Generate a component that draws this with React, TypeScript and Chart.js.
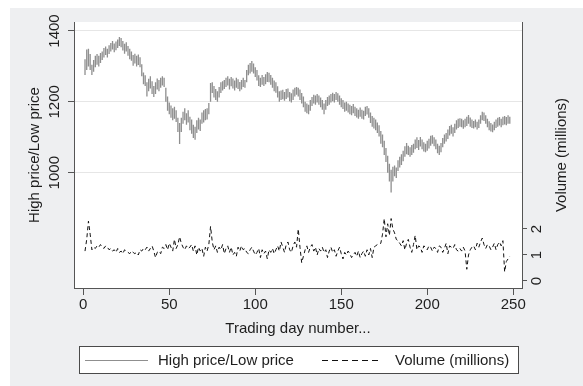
import React, { useEffect, useRef } from "react";
import { Chart, registerables } from "chart.js";

Chart.register(...registerables);

const highPrice = [
  1320, 1348, 1350, 1335, 1305, 1318, 1330, 1335, 1330, 1338,
  1342, 1352, 1356, 1350, 1360, 1366, 1372, 1365, 1370, 1376,
  1383, 1380, 1372, 1364, 1368, 1358, 1350, 1342, 1332, 1336,
  1330, 1334, 1326, 1306, 1283, 1275, 1255, 1265, 1272, 1258,
  1245, 1255, 1266, 1262, 1268, 1272, 1268, 1240, 1215, 1198,
  1190, 1182, 1186, 1176, 1155, 1140, 1155, 1172, 1182, 1168,
  1176, 1158, 1150, 1135, 1130, 1148, 1155, 1150, 1170, 1176,
  1180, 1182, 1197, 1253, 1255, 1245, 1236, 1230, 1242, 1255,
  1258, 1262, 1268, 1272, 1265, 1270, 1266, 1260, 1268, 1264,
  1256, 1262, 1268, 1262, 1290, 1305, 1310, 1315, 1308, 1298,
  1290, 1275, 1268, 1276, 1270, 1278, 1284, 1282, 1276, 1268,
  1260, 1255, 1244, 1230, 1232, 1234, 1228, 1236, 1238, 1228,
  1224, 1235, 1240, 1242, 1240, 1235, 1225, 1215, 1200, 1195,
  1192, 1205, 1214, 1220, 1218, 1222, 1218, 1212, 1205, 1195,
  1205, 1214, 1218, 1222, 1226, 1222, 1228, 1224, 1218, 1210,
  1205, 1198, 1200, 1195, 1192, 1188, 1194, 1186, 1182, 1178,
  1184, 1178, 1175, 1186, 1188, 1182, 1170, 1160, 1155, 1150,
  1142, 1134, 1118, 1108, 1090, 1070, 1048, 1025, 1008, 1017,
  1020, 1015, 1035, 1045, 1052, 1062, 1075, 1084, 1076, 1072,
  1078, 1082, 1094, 1100, 1092, 1101, 1094, 1086, 1082, 1090,
  1096, 1104, 1106, 1100, 1094, 1082, 1076, 1084, 1098, 1108,
  1112, 1122, 1132, 1135, 1128, 1138, 1148, 1152, 1154, 1152,
  1148, 1152, 1158, 1163, 1156, 1150, 1146, 1150, 1144, 1150,
  1162, 1172, 1170, 1162, 1152, 1145, 1140, 1136, 1144, 1150,
  1155, 1157, 1152, 1158, 1160, 1157, 1162, 1158,
];

const lowPrice = [
  1276, 1290, 1300, 1290, 1276, 1285, 1298, 1305, 1300, 1310,
  1318, 1325, 1332, 1325, 1335, 1342, 1348, 1340, 1346, 1352,
  1358, 1354, 1345, 1336, 1342, 1330, 1320, 1316, 1302, 1308,
  1300, 1304, 1298, 1272, 1250, 1245, 1215, 1230, 1238, 1222,
  1214, 1222, 1235, 1230, 1240, 1246, 1242, 1200, 1175, 1165,
  1155, 1148, 1152, 1143, 1115, 1081, 1115, 1138, 1148, 1135,
  1142, 1120, 1110, 1098, 1093, 1112, 1122, 1118, 1138, 1142,
  1148, 1150, 1165, 1200, 1225, 1212, 1205, 1200, 1212, 1225,
  1232, 1236, 1242, 1246, 1235, 1244, 1238, 1232, 1240, 1236,
  1230, 1235, 1242, 1240, 1255, 1275, 1280, 1285, 1280, 1270,
  1260, 1245, 1242, 1248, 1245, 1250, 1256, 1255, 1248, 1240,
  1230, 1226, 1212, 1200, 1205, 1207, 1203, 1208, 1212, 1202,
  1198, 1205, 1215, 1220, 1215, 1205, 1195, 1185, 1172, 1168,
  1165, 1175, 1188, 1195, 1192, 1198, 1192, 1185, 1178, 1165,
  1178, 1188, 1192, 1198, 1202, 1198, 1205, 1200, 1192, 1185,
  1180, 1172, 1175, 1170, 1165, 1162, 1168, 1160, 1156, 1152,
  1158, 1152, 1150, 1160, 1164, 1155, 1140, 1130, 1125, 1120,
  1112, 1102, 1082, 1072, 1050, 1030, 1000, 975, 944, 975,
  990, 985, 1005, 1015, 1022, 1032, 1045, 1052, 1050, 1045,
  1050, 1056, 1066, 1070, 1064, 1074, 1066, 1060, 1058, 1062,
  1068, 1076, 1082, 1075, 1066, 1055, 1050, 1058, 1072, 1082,
  1088, 1095, 1105, 1110, 1102, 1112, 1122, 1126, 1130, 1128,
  1124, 1128, 1132, 1138, 1130, 1126, 1125, 1128, 1122, 1126,
  1138, 1148, 1146, 1138, 1128, 1120, 1116, 1114, 1120, 1126,
  1130, 1133, 1128, 1134, 1136, 1134, 1138, 1138,
];

const volumeMillions = [
  1.15, 1.6, 2.3, 1.8, 1.2, 1.3, 1.25, 1.35, 1.3, 1.4,
  1.3, 1.25, 1.35, 1.3, 1.2, 1.25, 1.15, 1.2, 1.1, 1.25,
  1.1, 1.15, 1.05, 1.2, 1.15, 1.1, 1.05, 1.15, 1.1, 1.05,
  1.1, 1.0, 1.2, 1.15, 1.25, 1.2, 1.3, 1.15, 1.25, 1.35,
  1.15, 0.9, 1.1, 1.15, 1.05, 1.3, 1.25, 1.4, 1.2, 1.45,
  1.3, 1.15, 1.6, 1.25, 1.4, 1.7, 1.45, 1.3, 1.2, 1.35,
  1.25, 1.3, 1.4, 1.15, 1.35, 1.0, 1.3, 1.15, 1.25, 0.95,
  1.3, 1.15, 1.4, 2.1, 1.5, 1.2, 1.35, 1.1, 1.3, 1.2,
  1.4, 1.05, 1.25, 1.35, 1.1, 1.3, 1.0, 1.1, 0.95, 1.3,
  1.15, 1.35, 1.2, 1.25, 1.1, 1.05, 1.2, 1.3, 1.15, 1.0,
  1.1, 1.25, 0.9, 1.2, 1.05, 1.15, 0.85, 1.2, 1.1, 1.25,
  1.05, 1.2, 1.35, 1.15, 1.5, 1.3, 1.1, 1.4, 1.5, 1.2,
  1.1, 1.35, 1.5, 1.3, 2.0, 1.3, 0.7, 0.95, 1.2, 1.35,
  1.1, 1.3, 1.4, 1.15, 1.3, 1.0, 1.25, 1.15, 1.3, 1.1,
  1.2, 0.9, 1.15, 1.3, 1.1, 1.2, 0.95, 1.15, 1.3, 1.05,
  0.85, 1.1, 1.0, 1.15, 1.05, 0.9, 1.0, 1.1, 0.95, 1.15,
  0.9, 1.05, 1.15, 0.95, 1.2, 1.0, 1.25, 0.9, 1.3, 1.35,
  1.4, 1.4, 1.45, 1.8, 2.4, 1.7, 2.2, 1.75, 2.4, 2.0,
  1.85, 1.6, 1.55, 1.45, 1.35, 1.55, 1.2, 1.45, 1.6, 1.3,
  1.1, 1.4, 1.75, 1.2, 1.35, 1.3, 1.1, 1.35, 1.3, 1.2,
  1.35, 1.3, 1.15, 1.3, 1.25, 1.1, 1.35, 1.3, 1.1, 1.25,
  1.45, 1.05, 1.35, 1.3, 1.25, 1.4, 1.2, 1.15, 1.25, 1.15,
  1.3, 1.15, 0.45, 1.0, 1.2, 1.3, 1.35, 1.2, 1.45, 1.3,
  1.5, 1.65, 1.4, 1.25, 1.4, 1.35, 1.2, 1.3, 1.45, 1.2,
  1.4, 1.5, 1.35, 1.55, 0.35, 0.75, 0.85, 0.95,
];

const tradingDays = Array.from({ length: highPrice.length }, (_, i) => i + 1);

const xTicks = [0, 50, 100, 150, 200, 250];
const priceTicks = [1000, 1200, 1400];
const volumeTicks = [0, 1, 2];

const xTitle = "Trading day number...";
const priceTitle = "High price/Low price";
const volumeTitle = "Volume (millions)";

const FONT = "15px 'Liberation Sans', Arial, Helvetica, sans-serif";
const TEXT = "#1e1e1e";
const AXIS = "#555555";
const SPIKE = "#8f8f8f";

const decorPlugin = {
  id: "decor",
  beforeDraw(chart: any) {
    const { ctx, chartArea, width, height } = chart;
    ctx.save();
    ctx.fillStyle = "#ffffff";
    ctx.fillRect(0, 0, width, height);
    ctx.fillStyle = "#eeeff1";
    ctx.fillRect(10, 8, width - 10, height - 8);
    ctx.fillStyle = "#ffffff";
    ctx.fillRect(chartArea.left, chartArea.top, chartArea.right - chartArea.left, chartArea.bottom - chartArea.top);
    ctx.restore();
  },
  afterDraw(chart: any) {
    const { ctx, chartArea, scales } = chart;
    const xs = scales.x;
    const yp = scales.y;
    const yv = scales.y1;
    ctx.save();
    ctx.font = FONT;
    ctx.fillStyle = TEXT;
    ctx.textAlign = "center";
    ctx.textBaseline = "middle";

    // x tick labels
    xTicks.forEach((v) => {
      ctx.fillText(String(v), xs.getPixelForValue(v), 305);
    });
    ctx.fillText(xTitle, (chartArea.left + chartArea.right) / 2, 329);

    const rot = (text: string, x: number, y: number) => {
      ctx.save();
      ctx.translate(x, y);
      ctx.rotate(-Math.PI / 2);
      ctx.fillText(text, 0, 0);
      ctx.restore();
    };
    priceTicks.forEach((v) => rot(String(v), 55, yp.getPixelForValue(v)));
    volumeTicks.forEach((v) => rot(String(v), 537, yv.getPixelForValue(v)));
    const midY = (chartArea.top + chartArea.bottom) / 2;
    rot(priceTitle, 35, midY);
    rot(volumeTitle, 562, midY);

    // legend
    const lx = 79.5, ly = 346.5, lw = 439, lh = 27;
    ctx.fillStyle = "#ffffff";
    ctx.fillRect(lx, ly, lw, lh);
    ctx.strokeStyle = "#4a4a4a";
    ctx.lineWidth = 1;
    ctx.strokeRect(lx, ly, lw, lh);
    const cy = ly + lh / 2;
    ctx.strokeStyle = SPIKE;
    ctx.beginPath();
    ctx.moveTo(85, cy + 0.5);
    ctx.lineTo(148, cy + 0.5);
    ctx.stroke();
    ctx.strokeStyle = "#111111";
    ctx.setLineDash([6, 4]);
    ctx.beginPath();
    ctx.moveTo(322, cy + 0.5);
    ctx.lineTo(381, cy + 0.5);
    ctx.stroke();
    ctx.setLineDash([]);
    ctx.fillStyle = TEXT;
    ctx.textAlign = "left";
    ctx.fillText(priceTitle, 158, cy + 1);
    ctx.fillText(volumeTitle, 395, cy + 1);
    ctx.restore();
  },
};

export default function App() {
  const canvasRef = useRef<HTMLCanvasElement | null>(null);

  useEffect(() => {
    if (!canvasRef.current) return;
    const spikeData: any[] = [];
    tradingDays.forEach((d, i) => {
      spikeData.push({ x: d, y: lowPrice[i] });
      spikeData.push({ x: d, y: highPrice[i] });
      spikeData.push({ x: d, y: NaN });
    });
    const volData = tradingDays.map((d, i) => ({ x: d, y: volumeMillions[i] }));

    const chart = new Chart(canvasRef.current, {
      type: "line",
      data: {
        datasets: [
          {
            label: priceTitle,
            data: spikeData,
            yAxisID: "y",
            borderColor: SPIKE,
            borderWidth: 1.3,
            pointRadius: 0,
            spanGaps: false,
            tension: 0,
          },
          {
            label: volumeTitle,
            data: volData,
            yAxisID: "y1",
            borderColor: "#111111",
            borderWidth: 1,
            borderDash: [4, 3],
            pointRadius: 0,
            tension: 0,
          },
        ],
      },
      options: {
        responsive: false,
        animation: false,
        events: [],
        layout: { padding: { top: 22, left: 0, right: 0, bottom: 0 } },
        plugins: { legend: { display: false }, tooltip: { enabled: false } },
        scales: {
          x: {
            type: "linear",
            min: -5.4,
            max: 255.1,
            ticks: { display: false, includeBounds: false },
            afterBuildTicks: (s: any) => {
              s.ticks = xTicks.map((v) => ({ value: v }));
            },
            afterFit: (s: any) => {
              s.height = 98;
            },
            grid: { drawOnChartArea: false, drawTicks: true, tickLength: 7, tickColor: AXIS, color: AXIS },
            border: { display: true, color: AXIS, width: 1 },
          },
          y: {
            type: "linear",
            position: "left",
            min: 674.5,
            max: 1425.4,
            ticks: { display: false },
            afterBuildTicks: (s: any) => {
              s.ticks = priceTicks.map((v) => ({ value: v }));
            },
            afterFit: (s: any) => {
              s.width = 74;
            },
            grid: { drawOnChartArea: true, color: "#e6e6e6", tickColor: AXIS, tickLength: 6, lineWidth: 1 },
            border: { display: true, color: AXIS, width: 1 },
          },
          y1: {
            type: "linear",
            position: "right",
            min: -0.27,
            max: 9.96,
            ticks: { display: false },
            afterBuildTicks: (s: any) => {
              s.ticks = volumeTicks.map((v) => ({ value: v }));
            },
            afterFit: (s: any) => {
              s.width = 61;
            },
            grid: { drawOnChartArea: false, tickColor: AXIS, color: AXIS, tickLength: 5 },
            border: { display: true, color: AXIS, width: 1 },
          },
        },
      },
      plugins: [decorPlugin],
    });
    return () => chart.destroy();
  }, []);

  return (
    <div style={{ position: "fixed", left: 0, top: 0, width: 583, height: 386 }}>
      <canvas ref={canvasRef} width={583} height={386} style={{ display: "block" }} />
    </div>
  );
}
